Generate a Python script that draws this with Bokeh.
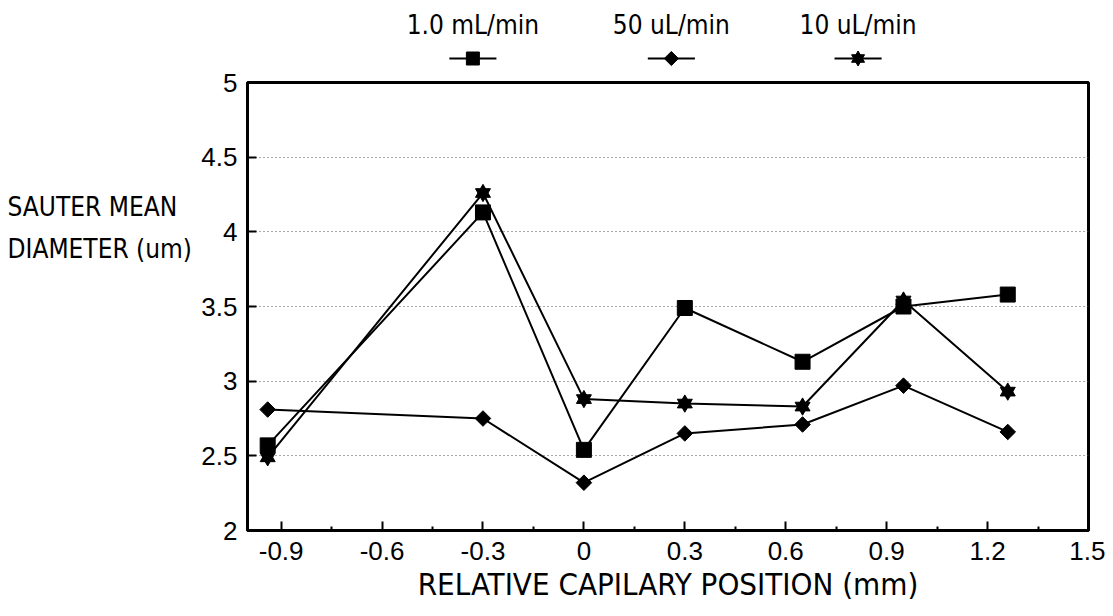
import numpy as np
from bokeh.plotting import figure
from bokeh.models import Range1d, FixedTicker
from bokeh.layouts import column, row
from bokeh.embed import file_html
from bokeh.resources import INLINE
from bokeh.core.properties import value

# ---------------- data ----------------
positions = [-0.94, -0.3, 0.0, 0.3, 0.65, 0.95, 1.26]
flow_1000 = [2.57, 4.13, 2.54, 3.49, 3.13, 3.50, 3.58]   # 1.0 mL/min (squares)
flow_50 = [2.81, 2.75, 2.32, 2.65, 2.71, 2.97, 2.66]     # 50 uL/min (diamonds)
flow_10 = [2.49, 4.26, 2.88, 2.85, 2.83, 3.54, 2.93]     # 10 uL/min (stars)
series_names = ["1.0 mL/min", "50 uL/min", "10 uL/min"]

x_ticks = [-0.9, -0.6, -0.3, 0.0, 0.3, 0.6, 0.9, 1.2, 1.5]
x_tick_labels = ["-0.9", "-0.6", "-0.3", "0", "0.3", "0.6", "0.9", "1.2", "1.5"]
y_ticks = [2.0, 2.5, 3.0, 3.5, 4.0, 4.5, 5.0]
y_tick_labels = ["2", "2.5", "3", "3.5", "4", "4.5", "5"]
x_title = "RELATIVE CAPILARY POSITION (mm)"
y_title = ["SAUTER MEAN", "DIAMETER (um)"]

# ---------------- style ----------------
NARROW = "DejaVu Sans Condensed, Liberation Sans, sans-serif"
TICKFONT = "Liberation Sans"
X_MIN, X_MAX = -1.0, 1.5
Y_MIN, Y_MAX = 2.0, 5.0
LAB_W = 198                 # width of the strip holding the y title
MAIN_W = 1105 - LAB_W
LEFT, RIGHT = 245 - LAB_W, 17
LEG_H, MAIN_H = 68, 536
TOP_B, BOT_B = 14, 72
x_minor = [(a + b) / 2 for a, b in zip(x_ticks[:-1], x_ticks[1:])]

x_range = Range1d(X_MIN, X_MAX)

# ---------------- main plot ----------------
p = figure(width=MAIN_W, height=MAIN_H, x_range=x_range, y_range=Range1d(Y_MIN, Y_MAX),
           output_backend="svg", toolbar_location=None,
           min_border_left=LEFT, min_border_right=RIGHT,
           min_border_top=TOP_B, min_border_bottom=BOT_B)
p.background_fill_color = "white"
p.border_fill_color = "white"
p.outline_line_color = "black"
p.outline_line_width = 3

p.xgrid.visible = False
p.ygrid.grid_line_color = "#555555"
p.ygrid.grid_line_dash = "1 3"
p.ygrid.grid_line_width = 1

xa = p.xaxis[0]
xa.ticker = FixedTicker(ticks=x_ticks, minor_ticks=x_minor)
xa.major_label_overrides = dict(zip(x_ticks, x_tick_labels))
xa.major_tick_in = 9
xa.major_tick_out = 0
xa.minor_tick_in = 4
xa.minor_tick_out = 0
xa.major_tick_line_width = 2
xa.minor_tick_line_width = 2
xa.axis_line_width = 3
xa.major_label_text_font = TICKFONT
xa.major_label_text_font_size = "26px"
xa.major_label_text_color = "black"
xa.major_label_standoff = 11
xa.axis_label = x_title
xa.axis_label_text_font = NARROW
xa.axis_label_text_font_size = "31px"
xa.axis_label_text_font_style = "normal"
xa.axis_label_text_color = "black"
xa.axis_label_standoff = 3

ya = p.yaxis[0]
ya.ticker = FixedTicker(ticks=y_ticks)
ya.major_label_overrides = dict(zip(y_ticks, y_tick_labels))
ya.major_tick_in = 9
ya.major_tick_out = 0
ya.minor_tick_in = 0
ya.minor_tick_out = 0
ya.major_tick_line_width = 2
ya.axis_line_width = 3
ya.major_label_text_font = TICKFONT
ya.major_label_text_font_size = "26px"
ya.major_label_text_color = "black"
ya.major_label_standoff = 10

# series
p.line(positions, flow_1000, line_color="black", line_width=2)
p.line(positions, flow_50, line_color="black", line_width=2)
p.line(positions, flow_10, line_color="black", line_width=2)
p.scatter(positions, flow_1000, marker="square", size=15, color="black")
p.scatter(positions, flow_50, marker="square", angle=np.pi / 4, size=11, color="black")
p.scatter(positions, flow_10, marker="triangle", size=15, color="black")
p.scatter(positions, flow_10, marker="inverted_triangle", size=15, color="black")

# ---------------- legend strip (above) ----------------
leg = figure(width=MAIN_W, height=LEG_H, x_range=x_range, y_range=Range1d(LEG_H, 0),
             output_backend="svg", toolbar_location=None,
             x_axis_location=None, y_axis_location=None,
             min_border_left=LEFT, min_border_right=RIGHT,
             min_border_top=0, min_border_bottom=0)
leg.grid.visible = False
leg.outline_line_color = None
leg.background_fill_color = "white"
leg.border_fill_color = "white"

legend_x = [-0.33, 0.26, 0.815]
half = 0.07
leg.text(x=legend_x, y=[24] * 3, text=series_names, text_align="center",
         text_baseline="middle", text_font=value(NARROW), text_font_size="26px",
         text_color="black")
leg.segment(x0=[v - half for v in legend_x], y0=[58] * 3,
            x1=[v + half for v in legend_x], y1=[58] * 3,
            line_color="black", line_width=2)
leg.scatter([legend_x[0]], [58], marker="square", size=13, color="black")
leg.scatter([legend_x[1]], [58], marker="square", angle=np.pi / 4, size=10, color="black")
leg.scatter([legend_x[2]], [58], marker="triangle", size=13, color="black")
leg.scatter([legend_x[2]], [58], marker="inverted_triangle", size=13, color="black")

# ---------------- y title strip (left) ----------------
tot_h = LEG_H + MAIN_H
ylab = figure(width=LAB_W, height=tot_h, x_range=Range1d(0, LAB_W), y_range=Range1d(tot_h, 0),
              output_backend="svg", toolbar_location=None,
              x_axis_location=None, y_axis_location=None,
              min_border_left=0, min_border_right=0, min_border_top=0, min_border_bottom=0)
ylab.grid.visible = False
ylab.outline_line_color = None
ylab.background_fill_color = "white"
ylab.border_fill_color = "white"
ylab.text(x=[7, 7], y=[206, 248], text=y_title, text_align="left", text_baseline="middle",
          text_font=value(NARROW), text_font_size="26px", text_color="black")

layout = row(ylab, column(leg, p, spacing=0), spacing=0)
open("out.html", "w").write(file_html(layout, INLINE))
